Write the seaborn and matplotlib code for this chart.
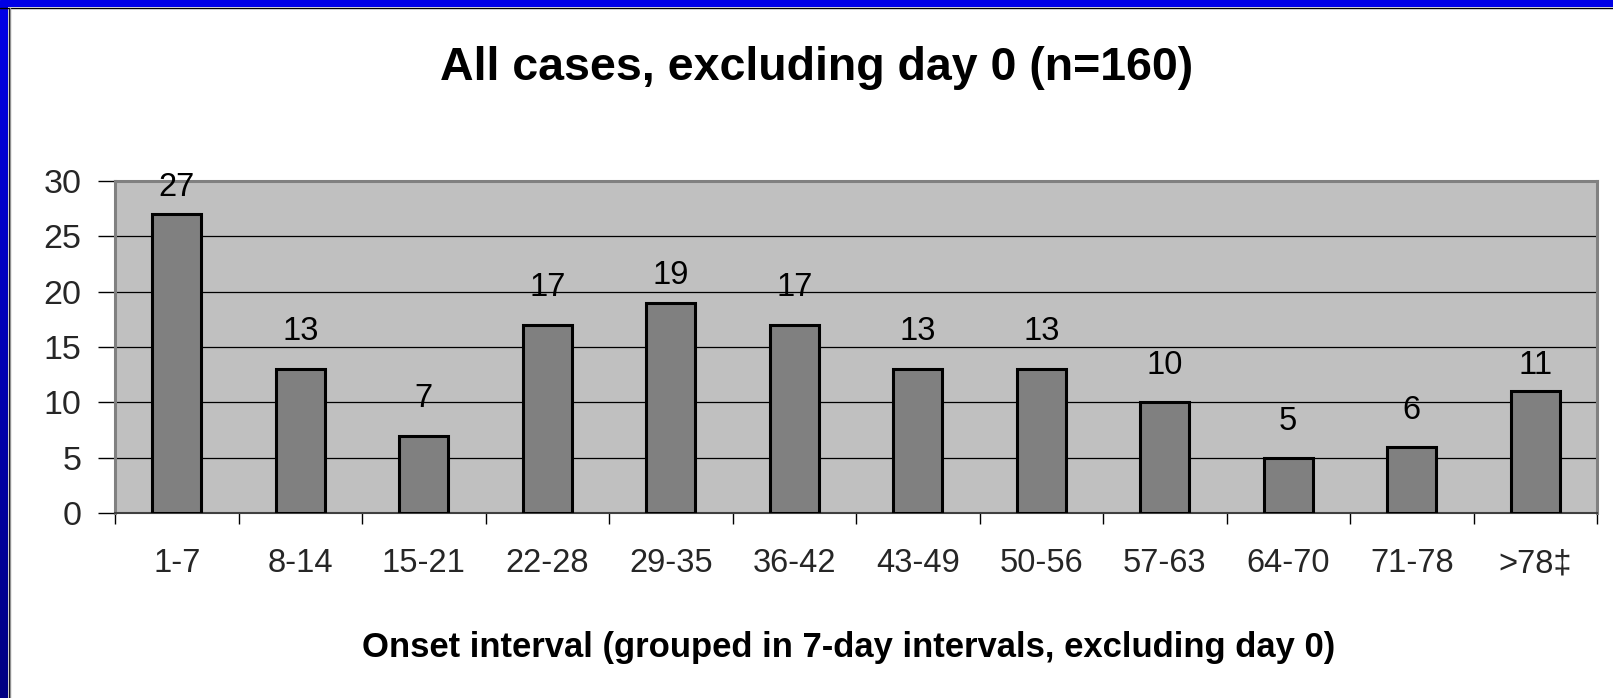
import numpy as np
import pandas as pd
import matplotlib
matplotlib.use("Agg")
import matplotlib.pyplot as plt
from matplotlib.lines import Line2D
import seaborn as sns

categories = ["1-7", "8-14", "15-21", "22-28", "29-35", "36-42", "43-49",
              "50-56", "57-63", "64-70", "71-78", ">78\u2021"]
values = [27, 13, 7, 17, 19, 17, 13, 13, 10, 5, 6, 11]
title = "All cases, excluding day 0 (n=160)"
xlabel = "Onset interval (grouped in 7-day intervals, excluding day 0)"
yticks = [0, 5, 10, 15, 20, 25, 30]

# style: pixel gap between bar top and its value label
label_gap_px = [18, 29, 29, 29, 19, 29, 29, 29, 28, 28, 28, 17]

sns.set_theme(style="white")
plt.rcParams["font.family"] = ["Liberation Sans", "DejaVu Sans"]

W, H = 1613, 698
fig = plt.figure(figsize=(W / 100, H / 100), dpi=100)
fig.patch.set_facecolor("white")

L, R, T, B = 115, 1597, 181, 513
ax = fig.add_axes([L / W, 1 - B / H, (R - L) / W, (B - T) / H])
ax.set_facecolor("#C0C0C0")

df = pd.DataFrame({"cat": categories, "val": values})
sns.barplot(data=df, x="cat", y="val", color="#808080", saturation=1,
            edgecolor="black", linewidth=2.2, width=0.4, ax=ax, zorder=3)

ax.set_ylim(0, 30)
ax.set_xlim(-0.5, len(categories) - 0.5)
ax.set_yticks(yticks)
ax.set_yticklabels([str(v) for v in yticks], fontsize=24.5)
ax.yaxis.grid(True, color="black", linewidth=0.9, zorder=1)
ax.set_axisbelow(True)

# x ticks: labels at centers, tick marks at boundaries
ax.set_xticks(range(len(categories)))
ax.set_xticklabels(categories, fontsize=23.5)
ax.set_xticks(np.arange(-0.5, len(categories), 1.0), minor=True)
ax.tick_params(axis="x", which="major", length=0, pad=25.5)
ax.tick_params(axis="x", which="minor", length=8, width=1.0, color="black",
               direction="out", bottom=True)
ax.tick_params(axis="y", which="major", length=12, width=1.0, color="black",
               direction="out", left=True, pad=12)
ax.set_xlabel("")
ax.set_ylabel("")

for side in ["top", "right", "left"]:
    ax.spines[side].set_color("#808080")
    ax.spines[side].set_linewidth(2.2)
ax.spines["bottom"].set_color("#404040")
ax.spines["bottom"].set_linewidth(1.5)

# value labels
px_per_unit = (B - T) / 30.0
for i, (v, g) in enumerate(zip(values, label_gap_px)):
    ax.text(i, v + g / px_per_unit, str(v), ha="center", va="baseline",
            fontsize=23.5, color="black", zorder=5)

fig.text(817 / W, 1 - 68 / H, title, ha="center", va="center",
         fontsize=33.5, fontweight="bold", color="black")
fig.text(849 / W, 1 - 647 / H, xlabel, ha="center", va="center",
         fontsize=24.9, fontweight="bold", color="black")

# blue slide border: top band and left gradient band
top_ax = fig.add_axes([0, 1 - 7 / H, 1, 7 / H])
top_ax.set_facecolor("#0000E6")
top_ax.set_axis_off()
top_ax.add_patch(plt.Rectangle((0, 0), 1, 1, transform=top_ax.transAxes,
                               color="#0000E6"))
left_ax = fig.add_axes([0, 0, 8 / W, 1 - 7 / H])
grad = np.linspace(0, 1, 256).reshape(-1, 1)
top_c = np.array([0, 0, 230]) / 255
bot_c = np.array([0, 0, 130]) / 255
img = top_c[None, None, :] * (1 - grad[:, :, None]) + bot_c[None, None, :] * grad[:, :, None]
left_ax.imshow(img, aspect="auto", extent=[0, 1, 0, 1], origin="upper")
left_ax.set_axis_off()
fig.add_artist(Line2D([0, 1], [1 - 7.5 / H, 1 - 7.5 / H], transform=fig.transFigure,
                      color="black", linewidth=1.0))
fig.add_artist(Line2D([8.5 / W, 8.5 / W], [0, 1 - 7.5 / H], transform=fig.transFigure,
                      color="black", linewidth=1.0))
fig.add_artist(Line2D([9.5 / W, 9.5 / W], [0, 1 - 8 / H], transform=fig.transFigure,
                      color="#909090", linewidth=1.0))

fig.savefig("out.png", dpi=100, facecolor="white")
